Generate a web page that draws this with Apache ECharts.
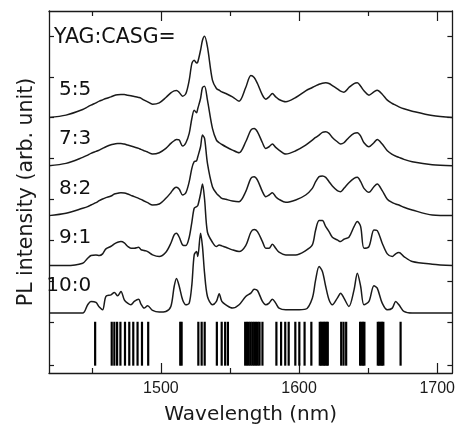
<!DOCTYPE html>
<html><head><meta charset="utf-8">
<script src="https://cdn.jsdelivr.net/npm/echarts@6/dist/echarts.min.js"></script>
<style>html,body{margin:0;padding:0;background:#fff}#c{width:458px;height:430px}</style>
</head><body><div id="c"></div>
<script>
// Wavelength grid (nm)
const wavelengths = [1419,1431.3,1443.4,1447,1449.4,1453,1455.4,1457.8,1460.2,1463.9,1466.3,1468.7,1471.1,1473.5,1475.9,1478.3,1480.7,1483.9,1485.5,1487.9,1490.4,1494,1498.8,1503.6,1507.2,1509.6,1511.3,1513.3,1515.7,1518.1,1520.5,1522.4,1524.1,1525.8,1526.7,1528.7,1530.1,1531.6,1533.7,1537.3,1540.2,1542.2,1544.1,1547,1551.8,1556.6,1561.4,1565.1,1567.5,1569.9,1573.5,1575.9,1578.3,1580.7,1583.1,1585.5,1590.4,1597.6,1604.8,1609.6,1612,1614.5,1616.9,1619.3,1621.7,1624.1,1627.7,1630.1,1632.5,1636.1,1639.8,1642.2,1644.6,1647,1650.6,1654.2,1656.6,1660.2,1663.9,1667.5,1669.9,1672.3,1675.9,1681.9,1696.4,1711];

// PL intensities (arb. unit), relative to each curve's own baseline
const pl_5_5 = [0,7,24,32,37,44,49,53,57,62,66,68,69,69,67,65,63,60,58,52,47,40,44,60,74,80,81,75,64,72,112,162,172,164,167,202,232,244,212,112,87,82,77,72,62,49,90,126,120,102,67,55,62,72,62,54,47,60,80,90,95,100,103,104,102,96,86,79,76,90,102,104,94,80,67,77,82,70,52,42,37,32,26,19,6,0];
const pl_7_3 = [0,7,25,32,37,43,47,52,57,63,65,67,67,65,62,59,56,52,49,45,41,35,39,52,67,75,79,77,59,69,97,142,167,159,172,202,235,239,197,112,77,69,64,57,47,39,72,107,112,102,69,52,57,65,55,47,35,45,62,77,85,92,100,102,97,85,72,65,69,85,97,99,89,69,57,69,79,65,45,34,29,25,19,12,3,0];
const pl_8_2 = [0,7,22,27,32,39,45,50,54,59,65,67,69,68,65,61,57,52,49,44,39,32,35,52,69,82,85,79,62,69,102,142,162,165,177,207,242,232,157,87,67,59,52,49,44,42,72,112,117,107,72,57,62,69,57,49,40,47,62,82,102,117,119,115,102,89,75,72,82,99,112,115,102,82,70,87,95,75,49,39,35,32,25,17,2,0];
const pl_9_1 = [0,0,7,22,30,32,30,35,50,58,65,70,72,68,58,52,52,55,48,45,42,32,27,40,67,92,97,85,62,60,85,130,172,177,180,215,245,200,100,70,57,62,59,55,47,42,60,100,108,102,72,52,52,64,52,40,32,32,45,62,107,135,135,117,102,85,77,72,79,85,117,132,117,52,57,107,105,67,35,27,35,39,27,12,4,0];
const pl_10_0 = [0,0,0,25,35,32,18,10,50,55,62,52,65,40,30,25,35,42,28,15,22,8,3,5,20,80,104,80,40,25,30,85,175,185,170,240,200,120,50,25,35,58,35,25,15,25,50,60,72,68,35,25,30,42,30,15,10,10,12,45,100,140,125,80,40,25,45,60,45,20,70,120,80,25,35,82,75,30,10,15,35,25,5,0,0,0];

const spectra = [pl_5_5, pl_7_3, pl_8_2, pl_9_1, pl_10_0];
const ratioLabels = ['5:5', '7:3', '8:2', '9:1', '10:0'];
const offsets = [768, 623, 473, 323, 180];
const headerLabel = 'YAG:CASG=';

// Stick spectrum (calculated transition wavelengths, nm)
const stickLines = [1452.4,1464.4,1466.3,1468.3,1470.7,1474.0,1477.1,1480.0,1483.1,1486.3,1490.8,1514.0,1515.0,1527.1,1529.5,1531.7,1540.5,1544.0,1546.5,1548.5,1561.0,1562.3,1563.6,1564.9,1566.2,1567.5,1568.8,1570.1,1571.4,1573.5,1583.6,1587.0,1590.0,1592.5,1597.3,1600.2,1604.0,1608.9,1615.0,1616.0,1617.0,1618.0,1619.0,1620.0,1620.8,1630.5,1632.2,1634.1,1644.2,1645.2,1646.3,1647.3,1657.0,1658.0,1659.0,1660.0,1661.0,1673.5];
const stickRange = [22, 154];

const xMajorTicks = [1500, 1600, 1700];
const xMinorTicks = [1450, 1550, 1650];
const yTicks = [22, 152, 275, 398, 522, 644, 768, 890, 1012];

const X_MIN = 1419, X_MAX = 1711, Y_MIN = 0, Y_MAX = 1088;
const ink = '#1a1a1a';

function xAxisDef(pos, ticks, len, showLine, showLabel, name) {
  return {
    type: 'value', position: pos, min: X_MIN, max: X_MAX,
    splitLine: {show: false},
    axisLine: {show: showLine, onZero: false, lineStyle: {color: ink, width: 1.3}},
    axisTick: {show: true, inside: true, length: len, customValues: ticks, lineStyle: {color: ink, width: 1.2}},
    axisLabel: {show: showLabel, customValues: ticks, margin: 8, fontSize: 16, color: ink,
                fontFamily: 'Liberation Sans', formatter: v => String(v)},
    name: name || '', nameLocation: 'middle', nameGap: 32,
    nameTextStyle: {fontFamily: 'DejaVu Sans', fontSize: 20, color: ink}
  };
}
function yAxisDef(pos, name) {
  return {
    type: 'value', position: pos, min: Y_MIN, max: Y_MAX,
    splitLine: {show: false},
    axisLine: {show: true, onZero: false, lineStyle: {color: ink, width: 1.3}},
    axisTick: {show: true, inside: true, length: 5, customValues: yTicks, lineStyle: {color: ink, width: 1.2}},
    axisLabel: {show: false},
    name: name || '', nameLocation: 'middle', nameGap: 12,
    nameTextStyle: {fontFamily: 'DejaVu Sans', fontSize: 20.5, color: ink}
  };
}

const series = spectra.map((vals, i) => ({
  type: 'line', xAxisIndex: 0, yAxisIndex: 0,
  data: wavelengths.map((w, j) => [w, offsets[i] + vals[j]]),
  showSymbol: false, smooth: 0.3, silent: true,
  lineStyle: {color: ink, width: 1.5}
}));

series.push({
  type: 'custom', xAxisIndex: 0, yAxisIndex: 0, silent: true,
  data: stickLines.map(v => [v, stickRange[1]]),
  encode: {x: 0, y: 1},
  renderItem: (params, api) => {
    const x = api.value(0);
    const p1 = api.coord([x, stickRange[0]]);
    const p2 = api.coord([x, stickRange[1]]);
    return {type: 'line', shape: {x1: p1[0], y1: p1[1], x2: p2[0], y2: p2[1]},
            style: {stroke: '#000', lineWidth: 2.2}};
  }
});

const labelCommon = {show: true, position: [0, 0], verticalAlign: 'middle',
  formatter: p => p.name, fontFamily: 'DejaVu Sans', color: '#111',
  textBorderWidth: 0, textBorderColor: 'transparent', textShadowBlur: 0, opacity: 1};

series.push({
  type: 'scatter', xAxisIndex: 0, yAxisIndex: 0, symbolSize: 0, silent: true,
  itemStyle: {color: '#111'},
  data: ratioLabels.map((t, i) => ({value: [1449.5, offsets[i] + 82], name: t})),
  label: Object.assign({}, labelCommon, {align: 'right', fontSize: 20})
});
series.push({
  type: 'scatter', xAxisIndex: 0, yAxisIndex: 0, symbolSize: 0, silent: true,
  itemStyle: {color: '#111'},
  data: [{value: [1422.6, 1007], name: headerLabel}],
  label: Object.assign({}, labelCommon, {align: 'left', fontSize: 20.5})
});

const chart = echarts.init(document.getElementById('c'), null, {renderer: 'canvas'});
chart.setOption({
  animation: false,
  backgroundColor: '#fff',
  grid: {left: 49, right: 5, top: 11, bottom: 57, containLabel: false},
  xAxis: [
    xAxisDef('bottom', xMajorTicks, 10, true, true, 'Wavelength (nm)'),
    xAxisDef('bottom', xMinorTicks, 5, false, false),
    xAxisDef('top', xMajorTicks, 10, true, false),
    xAxisDef('top', xMinorTicks, 5, false, false)
  ],
  yAxis: [
    yAxisDef('left', 'PL intensity (arb. unit)'),
    yAxisDef('right')
  ],
  series: series
});
</script></body></html>
